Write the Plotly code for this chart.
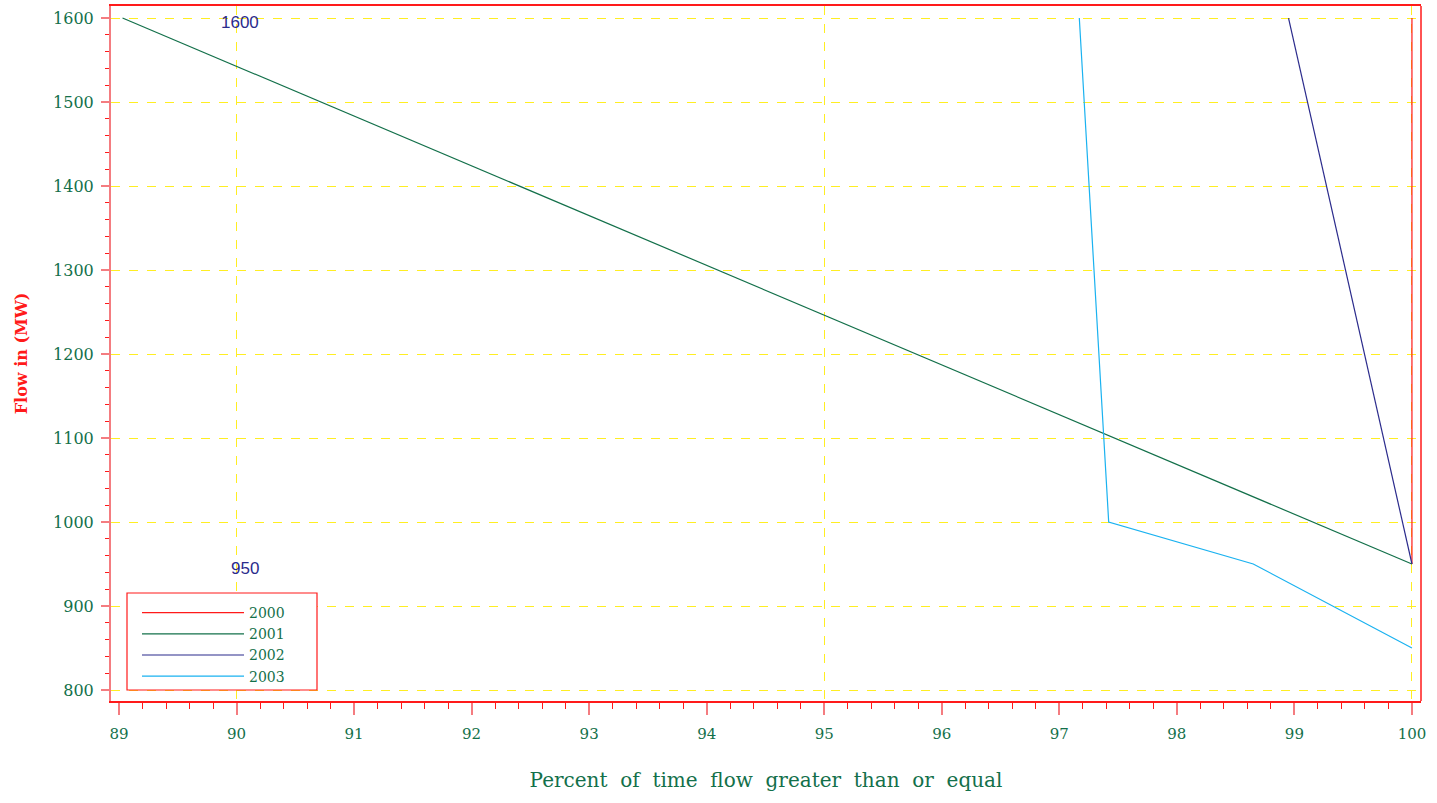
import plotly.graph_objects as go

# ---- data ----
series_names = ["2000", "2001", "2002", "2003"]
series_colors = ["#ff1a1a", "#13704a", "#2b2b8c", "#1ab2f0"]
x_2000 = [100.0, 100.0]
y_2000 = [1600, 950]
x_2001 = [89.03, 100.0]
y_2001 = [1600, 950]
x_2002 = [98.95, 100.0]
y_2002 = [1600, 950]
x_2003 = [97.17, 97.42, 98.65, 100.0]
y_2003 = [1600, 1000, 950, 850]
xs = [x_2000, x_2001, x_2002, x_2003]
ys = [y_2000, y_2001, y_2002, y_2003]

label_texts = ["1600", "950"]
label_x = [90, 90]
label_y = [1600, 950]

x_range = [88.932, 100.077]
y_range = [786.9, 1614.3]

SERIF = "DejaVu Serif"
GREEN = "#13704a"
RED = "#ff1a1a"
PINK = "#f47c80"
YELLOW = "#ffee22"

W, H = 1437, 803
ML, MR, MT, MB = 111, 16, 6, 102
PW, PH = W - ML - MR, H - MT - MB


def px_x(p):
    return (p - ML) / PW


def px_y(p):
    return (H - MB - p) / PH


fig = go.Figure()
for name, color, x, y in zip(series_names, series_colors, xs, ys):
    fig.add_trace(go.Scatter(x=x, y=y, mode="lines", name=name,
                             line=dict(color=color, width=1.2)))

# helper overlay axis for the vertical grid every 5
fig.add_trace(go.Scatter(x=[x_range[0]], y=[y_range[0]], xaxis="x2", mode="markers",
                         marker=dict(opacity=0), showlegend=False, hoverinfo="skip"))

for t, x, y in zip(label_texts, label_x, label_y):
    fig.add_annotation(x=x, y=y, text=t, showarrow=False, xanchor="right",
                       yanchor="middle", xshift=24, yshift=-4,
                       font=dict(family="Liberation Sans, Arial", size=17, color="#2b2b8c"))

fig.update_layout(
    width=W, height=H,
    margin=dict(l=ML, r=MR, t=MT, b=MB),
    paper_bgcolor="white", plot_bgcolor="white",
    font=dict(family=SERIF, color=GREEN, size=14),
    showlegend=True,
    legend=dict(x=px_x(137), y=px_y(597), xanchor="left", yanchor="top",
                borderwidth=0, bgcolor="rgba(0,0,0,0)",
                font=dict(family=SERIF, size=14, color=GREEN),
                itemwidth=102, tracegroupgap=0),
    xaxis=dict(range=x_range, dtick=1, tick0=89, showgrid=False, zeroline=False,
               automargin=False,
               showline=True, linecolor=RED, linewidth=1.5, mirror=True,
               ticks="outside", ticklen=12, tickcolor=PINK, tickwidth=1.5,
               ticklabelstandoff=6,
               tickfont=dict(family=SERIF, size=15, color=GREEN),
               minor=dict(dtick=0.2, tick0=89, ticks="outside", ticklen=6,
                          tickcolor=RED, tickwidth=1, showgrid=False),
               title=dict(text="Percent  of  time  flow  greater  than  or  equal",
                          font=dict(family=SERIF, size=20, color=GREEN), standoff=31)),
    xaxis2=dict(range=x_range, overlaying="x", dtick=5, tick0=90, showgrid=True,
                gridcolor=YELLOW, griddash="dash", gridwidth=1, showticklabels=False,
                ticks="", showline=False, zeroline=False, automargin=False),
    yaxis=dict(range=y_range, dtick=100, tick0=800, showgrid=True,
               gridcolor=YELLOW, griddash="dash", gridwidth=1, zeroline=False,
               automargin=False,
               showline=True, linecolor=PINK, linewidth=2,
               ticks="outside", ticklen=8, tickcolor=PINK, tickwidth=1.5,
               ticklabelstandoff=4,
               tickfont=dict(family=SERIF, size=16, color=GREEN),
               minor=dict(dtick=20, tick0=800, ticks="outside", ticklen=4,
                          tickcolor=RED, tickwidth=1, showgrid=False),
               title=dict(text="<b>Flow in (MW)</b>",
                          font=dict(family=SERIF, size=16, color=RED), standoff=21)),
    shapes=[
        dict(type="line", xref="paper", yref="paper", x0=1, x1=1, y0=0, y1=1,
             line=dict(color=RED, width=1.5)),
        dict(type="rect", xref="paper", yref="paper", layer="above",
             x0=px_x(127), x1=px_x(317), y0=px_y(690), y1=px_y(593),
             fillcolor="white", line=dict(color=RED, width=1.2)),
    ],
)

fig.write_html("out.html", config={"displayModeBar": False},
               post_script="document.body.style.margin='0px';")
